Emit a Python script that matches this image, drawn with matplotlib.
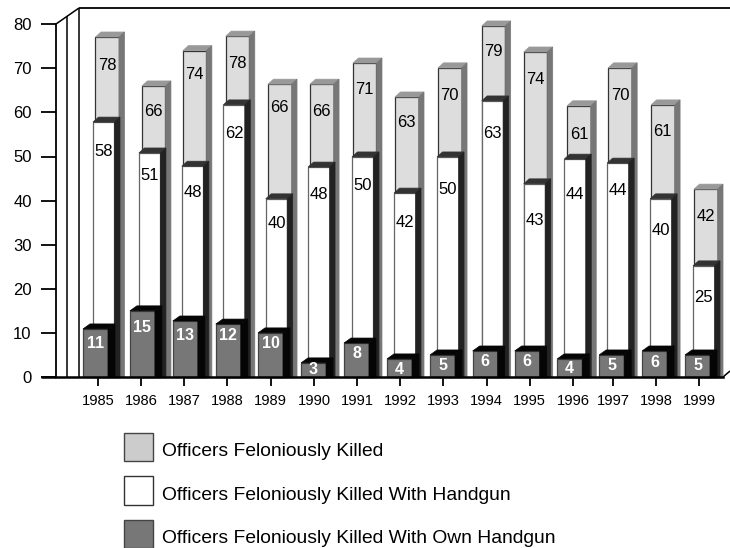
import matplotlib
matplotlib.use("Agg")
import matplotlib.pyplot as plt
from matplotlib.patches import Patch
import numpy as np

plt.rcParams['font.family'] = ['Liberation Sans', 'DejaVu Sans']

years = [1985, 1986, 1987, 1988, 1989, 1990, 1991, 1992, 1993, 1994, 1995, 1996, 1997, 1998, 1999]

# printed labels
killed_labels = [78, 66, 74, 78, 66, 66, 71, 63, 70, 79, 74, 61, 70, 61, 42]
handgun_labels = [58, 51, 48, 62, 40, 48, 50, 42, 50, 63, 43, 44, 44, 40, 25]
own_labels = [11, 15, 13, 12, 10, 3, 8, 4, 5, 6, 6, 4, 5, 6, 5]

# drawn heights
killed = [77.1, 66.0, 74.0, 77.3, 66.4, 66.4, 71.2, 63.5, 70.1, 79.6, 73.7, 61.5, 70.1, 61.7, 42.6]
handgun = [57.8, 50.8, 47.8, 61.7, 40.4, 47.6, 49.9, 41.7, 49.9, 62.6, 43.8, 49.4, 48.5, 40.4, 25.2]
own = [10.9, 15.0, 12.7, 12.0, 10.0, 3.2, 7.7, 4.1, 5.0, 5.9, 5.9, 4.1, 5.0, 5.9, 5.0]

# layout: the hand-assembled chart has slightly irregular bar placement (pixels)
tick_nudge = [0, 0, 0, 0, 1, 1.4, 1.4, 1.5, 1.6, 2.3, 2.4, 3, 0, 0, 0]
own_off = [-15, -11, -11, -11, -12.7, -13, -13, -13, -13, -14, -15, -16, -14, -14, -14]
handgun_off = [-5, -2, -2, -3.5, -5, -6, -5, -6, -6, -5, -6, -9, -6, -6, -6]
killed_off = [-2.5, 1, -1, -1, -2.7, -4, -4, -5, -5, -5, -6, -6, -5, -5, -5]

# layout: height on the value axis at which each printed label sits
killed_label_at = [70.7, 60.3, 68.7, 71.0, 61.0, 60.1, 65.3, 57.6, 63.9, 73.7, 67.4, 55.1, 63.9, 55.6, 36.3]
handgun_label_at = [51.2, 45.8, 41.9, 55.3, 34.7, 41.3, 43.5, 35.1, 42.6, 55.3, 35.6, 41.3, 42.4, 33.3, 18.1]
own_label_at = [7.7, 11.3, 9.5, 9.5, 7.5, 1.6, 5.4, 1.8, 2.7, 3.6, 3.6, 2.0, 2.7, 3.4, 2.7]

yticks = [0, 10, 20, 30, 40, 50, 60, 70, 80]
legend_names = ["Officers Feloniously Killed",
                "Officers Feloniously Killed With Handgun",
                "Officers Feloniously Killed With Own Handgun"]

W, H = 730, 548
PX_X = 42.93   # pixels per year
PX_Y = 4.41    # pixels per unit
X0, Y0 = 98, 377
AX_L, AX_R, AX_T = 56, 723, 24

fig = plt.figure(figsize=(W / 100, H / 100), dpi=100, facecolor='white')
ax = fig.add_axes([AX_L / W, 1 - Y0 / H, (AX_R - AX_L) / W, (Y0 - AX_T) / H])
ax.set_xlim(years[0] + (AX_L - X0) / PX_X, years[0] + (AX_R - X0) / PX_X)
ax.set_ylim(0, (Y0 - AX_T) / PX_Y)
ax.patch.set_alpha(0)

yr = np.array(years, dtype=float)
nudge = np.array(tick_nudge)


def layer(values, labels, label_at, offs, width_px, depth_px, front, top, side,
          edge, z, lab_color, lab_weight, lab_size):
    vals = np.array(values, dtype=float)
    left = yr + (nudge + np.array(offs)) / PX_X
    w = width_px / PX_X
    dx = depth_px / PX_X
    dy = 5 / PX_Y
    ax.bar(left, vals, width=w, align='edge', color=front, edgecolor=edge,
           linewidth=0.9, zorder=z, clip_on=False)
    for l, v in zip(left, vals):
        ax.fill([l, l + dx, l + w + dx, l + w], [v, v + dy, v + dy, v],
                facecolor=top, edgecolor=top, linewidth=0.5, zorder=z, clip_on=False)
        ax.fill([l + w, l + w + dx, l + w + dx, l + w], [v, v + dy, 0, 0],
                facecolor=side, edgecolor=side, linewidth=0.5, zorder=z, clip_on=False)
    for l, t, a in zip(left, labels, label_at):
        ax.text(l + w / 2, a, str(t), ha='center', va='center', color=lab_color,
                fontweight=lab_weight, fontsize=lab_size, zorder=z + 1)


layer(killed, killed_labels, killed_label_at, killed_off, 23.5, 5.5,
      '#DDDDDD', '#999999', '#777777', '#333333', 2, 'black', 'normal', 12)
layer(handgun, handgun_labels, handgun_label_at, handgun_off, 21.5, 5.5,
      'white', '#333333', '#222222', '#666666', 3, 'black', 'normal', 12)
layer(own, own_labels, own_label_at, own_off, 25, 7,
      '#777777', '#050505', '#050505', '#444444', 4, 'white', 'bold', 11.5)

# axes, ticks
for s in ('top', 'right'):
    ax.spines[s].set_visible(False)
ax.spines['left'].set_linewidth(1.3)
ax.spines['bottom'].set_linewidth(1.8)
ax.spines['bottom'].set_zorder(6)
ax.set_yticks(yticks)
ax.set_yticklabels([str(t) for t in yticks])
ax.tick_params(axis='y', length=10.5, width=1.3, pad=7, labelsize=12)
ax.set_xticks(yr + nudge / PX_X)
ax.set_xticklabels([str(y) for y in years])
ax.tick_params(axis='x', length=6.5, width=1.3, pad=5.5, labelsize=10.6)

# 3-D frame of the plot box
fx = lambda p: years[0] + (p - X0) / PX_X
fy = lambda p: (Y0 - p) / PX_Y
line_kw = dict(color='black', clip_on=False, solid_capstyle='butt')
ax.plot([fx(67), fx(67)], [fy(16), fy(377)], lw=1.1, zorder=1, **line_kw)
ax.plot([fx(79), fx(79)], [fy(8), fy(377)], lw=1.1, zorder=1, **line_kw)
ax.plot([fx(56), fx(79)], [fy(24), fy(8)], lw=1.1, zorder=1, **line_kw)
ax.plot([fx(79), fx(730)], [fy(7.5), fy(7.5)], lw=1.3, zorder=1, **line_kw)
ax.plot([fx(41), fx(56)], [0, 0], lw=1.8, zorder=6, **line_kw)
ax.plot([fx(723), fx(730)], [0, fy(371)], lw=1.1, zorder=1, **line_kw)

# legend
handles = [Patch(facecolor='#CCCCCC', edgecolor='#444444', linewidth=1.0),
           Patch(facecolor='white', edgecolor='#333333', linewidth=1.0),
           Patch(facecolor='#777777', edgecolor='#444444', linewidth=1.0)]
leg = fig.legend(handles, legend_names, loc='upper left',
                 bbox_to_anchor=(124 / W, 1 - 433 / H), frameon=False,
                 fontsize=13.9, handlelength=1.5, handleheight=1.888,
                 labelspacing=0.78, handletextpad=0.47, borderpad=0, borderaxespad=0)
for t in leg.get_texts():
    t.set_y(-3)

fig.savefig('out.png', dpi=100, facecolor='white')
